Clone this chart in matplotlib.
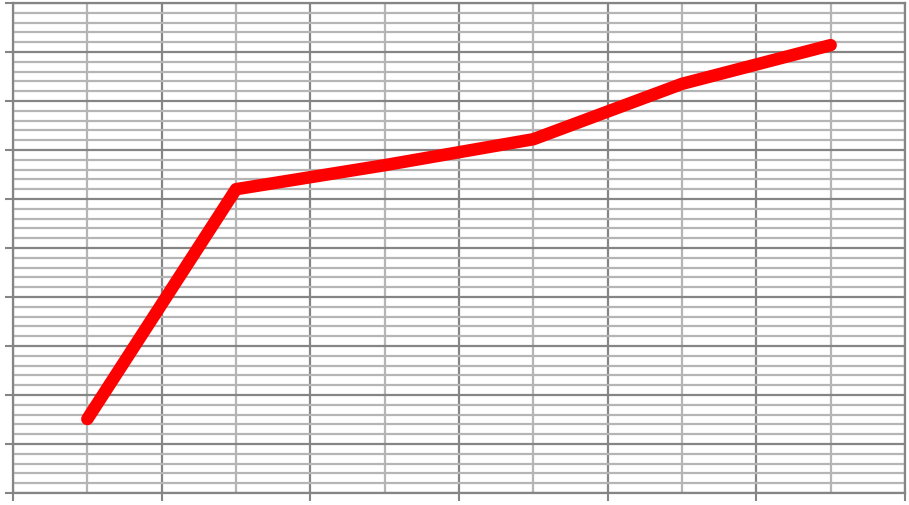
import numpy as np
import matplotlib
matplotlib.use("Agg")
from matplotlib import pyplot as plt
from matplotlib.ticker import MultipleLocator

# data (y axis assumed 0-100)
categories = [1, 2, 3, 4, 5, 6]
values = [15.1, 62.0, 66.9, 72.2, 83.5, 91.4]

major_col = '#858585'
minor_col = '#b5b5b5'

fig = plt.figure(figsize=(9.09, 5.06), dpi=100)
ax = fig.add_axes([13/909, 12/506, 892/909, 490/506])

ax.set_xlim(0.5, 6.5)
ax.set_ylim(0, 100)
ax.set_xticks(np.arange(0.5, 7.0, 1.0))
ax.set_xticks(categories, minor=True)
ax.yaxis.set_major_locator(MultipleLocator(10))
ax.yaxis.set_minor_locator(MultipleLocator(2))

ax.grid(which='major', color=major_col, linewidth=1.6)
ax.grid(which='minor', color=minor_col, linewidth=1.6)
ax.set_axisbelow(True)

ax.tick_params(which='major', direction='out', length=6, width=1.5,
               color=major_col, labelleft=False, labelbottom=False)
ax.tick_params(which='minor', length=0)

for s in ax.spines.values():
    s.set_color(major_col)
    s.set_linewidth(1.6)

ax.plot(categories, values, color='#ff0000', linewidth=9,
        solid_capstyle='round', solid_joinstyle='round', zorder=3)

fig.savefig('out.png', dpi=100)
